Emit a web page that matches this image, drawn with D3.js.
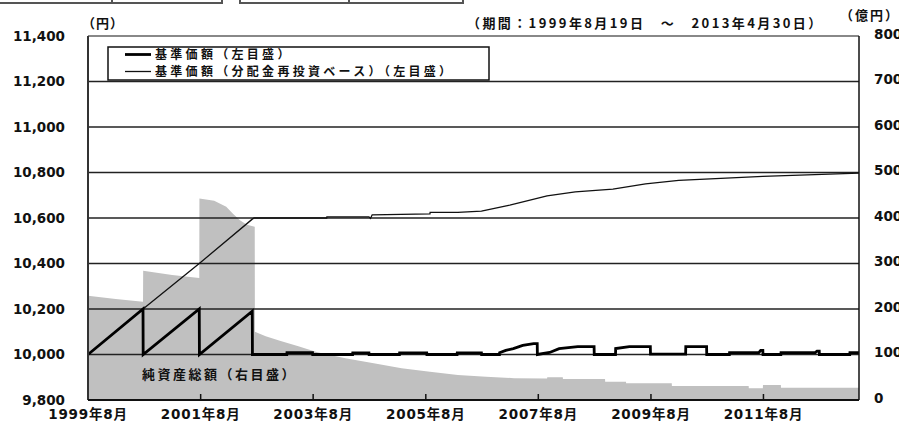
<!DOCTYPE html>
<html>
<head>
<meta charset="utf-8">
<script src="https://cdn.jsdelivr.net/npm/d3@7"></script>
<style>
  body { margin: 0; background: #fff; }
  svg { display: block; }
  text { font-family: "DejaVu Sans", "Noto Sans CJK JP", sans-serif; font-weight: bold; fill: #111; }
  .jp { font-family: "Noto Sans CJK JP", sans-serif; }
</style>
</head>
<body>
<svg id="chart"></svg>
<script>
// Data
const leftTicks = [9800, 10000, 10200, 10400, 10600, 10800, 11000, 11200, 11400];
const rightTicks = [0, 100, 200, 300, 400, 500, 600, 700, 800];
const xTickDates = ["1999-08-19", "2001-08-19", "2003-08-19", "2005-08-19", "2007-08-19", "2009-08-19", "2011-08-19"];
const xTickLabels = ["1999年8月", "2001年8月", "2003年8月", "2005年8月", "2007年8月", "2009年8月", "2011年8月"];

// 基準価額 (円)
const basePrice = [
  ["1999-08-19", 10000], ["2000-08-10", 10200], ["2000-08-11", 10000],
  ["2001-08-10", 10200], ["2001-08-11", 10000],
  ["2002-07-20", 10190], ["2002-07-21", 10000],
  ["2003-03-01", 10000], ["2003-03-02", 10008], ["2003-08-15", 10008], ["2003-08-16", 10000],
  ["2004-05-01", 10000], ["2004-05-02", 10007], ["2004-08-15", 10007], ["2004-08-16", 10000],
  ["2005-03-01", 10000], ["2005-03-02", 10007], ["2005-08-25", 10007], ["2005-08-26", 10000],
  ["2006-03-10", 10000], ["2006-03-11", 10007], ["2006-08-15", 10007], ["2006-08-16", 10000],
  ["2006-12-10", 10000], ["2006-12-11", 10008], ["2007-01-20", 10018], ["2007-03-10", 10026],
  ["2007-05-10", 10040], ["2007-07-20", 10048], ["2007-08-12", 10048], ["2007-08-13", 10000],
  ["2007-11-01", 10009], ["2008-01-01", 10026], ["2008-05-01", 10035], ["2008-08-15", 10035], ["2008-08-16", 10000],
  ["2009-01-01", 10000], ["2009-01-02", 10026], ["2009-04-01", 10035], ["2009-08-15", 10035], ["2009-08-16", 10002],
  ["2010-04-01", 10002], ["2010-04-02", 10035], ["2010-08-15", 10035], ["2010-08-16", 10000],
  ["2011-01-10", 10000], ["2011-01-11", 10008], ["2011-07-20", 10008], ["2011-08-01", 10018], ["2011-08-15", 10018], ["2011-08-16", 10000],
  ["2011-12-10", 10000], ["2011-12-11", 10008], ["2012-07-20", 10008], ["2012-08-01", 10015], ["2012-08-15", 10015], ["2012-08-16", 10000],
  ["2013-03-01", 10000], ["2013-03-02", 10008], ["2013-04-30", 10008]
];

// 基準価額 (分配金再投資ベース) (円)
const reinvested = [
  ["1999-08-19", 10000], ["2000-08-10", 10200], ["2001-08-10", 10400], ["2002-07-20", 10595], ["2002-08-01", 10600],
  ["2003-11-15", 10600], ["2003-11-16", 10605], ["2004-08-15", 10605], ["2004-08-25", 10598], ["2004-09-05", 10614],
  ["2005-09-15", 10618], ["2005-09-16", 10625], ["2006-03-15", 10625], ["2006-08-15", 10630], ["2007-02-15", 10657],
  ["2007-10-15", 10697], ["2008-04-15", 10715], ["2008-12-15", 10727], ["2009-07-15", 10750], ["2010-02-15", 10765],
  ["2011-08-15", 10783], ["2013-04-30", 10797]
];

// 純資産総額 (億円)
const netAssets = [
  ["1999-08-19", 229], ["2000-02-15", 222], ["2000-08-10", 216], ["2000-08-11", 284], ["2001-02-15", 275],
  ["2001-08-10", 268], ["2001-08-11", 443], ["2001-11-15", 438], ["2002-02-01", 425], ["2002-03-15", 410],
  ["2002-05-01", 395], ["2002-06-15", 385], ["2002-08-05", 381], ["2002-08-06", 150], ["2002-10-15", 140],
  ["2003-01-15", 130], ["2003-05-15", 118], ["2003-09-15", 105], ["2004-03-15", 92], ["2004-09-15", 81],
  ["2005-03-15", 70], ["2005-09-15", 62], ["2006-03-15", 55], ["2006-09-15", 51], ["2007-03-15", 48],
  ["2007-10-15", 47], ["2007-10-16", 50], ["2008-01-25", 50], ["2008-01-26", 46], ["2008-10-25", 46],
  ["2008-10-26", 40], ["2009-03-10", 40], ["2009-03-11", 37], ["2010-01-01", 37], ["2010-01-02", 31],
  ["2011-05-15", 31], ["2011-05-16", 26], ["2011-08-15", 26], ["2011-08-16", 33], ["2011-12-10", 33],
  ["2011-12-11", 27], ["2013-04-30", 27]
];

// Constants
const width = 899;
const height = 426;
const margin = { left: 88, right: 40, top: 36, bottom: 26 };
const visWidth = width - margin.left - margin.right;
const visHeight = height - margin.top - margin.bottom;

const parse = d3.timeParse("%Y-%m-%d");

const svg = d3.select('#chart')
  .attr('width', width)
  .attr('height', height);

// header table fragment at the very top
const header = svg.append('g').attr('stroke', '#555').attr('stroke-width', 2);
header.append('line').attr('x1', 0).attr('x2', 222).attr('y1', 3).attr('y2', 3);
header.append('line').attr('x1', 240).attr('x2', 463).attr('y1', 3).attr('y2', 3);
[112, 222, 240, 349, 463].forEach(px => {
  header.append('line').attr('x1', px).attr('x2', px).attr('y1', 0).attr('y2', 4);
});

const chart = svg.append('g')
  .attr('transform', `translate(${margin.left},${margin.top})`);

// Scales
const x = d3.scaleTime()
  .domain([parse("1999-08-19"), parse("2013-04-30")])
  .range([0, visWidth]);
const yL = d3.scaleLinear().domain([9800, 11400]).range([visHeight, 0]);
const yR = d3.scaleLinear().domain([0, 800]).range([visHeight, 0]);

// Net assets area
const area = d3.area()
  .x(d => x(parse(d[0])))
  .y0(visHeight)
  .y1(d => yR(d[1]));

chart.append('path')
  .datum(netAssets)
  .attr('d', area)
  .attr('fill', '#c0c0c0');

// Gridlines
chart.selectAll('.grid')
  .data(leftTicks.filter(v => v > 9800 && v < 11400))
  .enter()
  .append('line')
  .attr('x1', 0)
  .attr('x2', visWidth)
  .attr('y1', d => yL(d))
  .attr('y2', d => yL(d))
  .attr('stroke', '#222')
  .attr('stroke-width', 1.5);

// Lines
const line = d3.line()
  .x(d => x(parse(d[0])))
  .y(d => yL(d[1]));

chart.append('path')
  .datum(reinvested)
  .attr('d', line)
  .attr('fill', 'none')
  .attr('stroke', '#111')
  .attr('stroke-width', 1.3);

chart.append('path')
  .datum(basePrice)
  .attr('d', line)
  .attr('fill', 'none')
  .attr('stroke', '#000')
  .attr('stroke-width', 2.8)
  .attr('stroke-linejoin', 'miter');

// Frame
chart.append('line').attr('x1', 0).attr('x2', visWidth).attr('y1', 0).attr('y2', 0)
  .attr('stroke', '#888').attr('stroke-width', 2);
chart.append('line').attr('x1', 0).attr('x2', 0).attr('y1', 0).attr('y2', visHeight)
  .attr('stroke', '#333').attr('stroke-width', 2);
chart.append('line').attr('x1', visWidth).attr('x2', visWidth).attr('y1', 0).attr('y2', visHeight)
  .attr('stroke', '#111').attr('stroke-width', 1.5);
chart.append('line').attr('x1', 0).attr('x2', visWidth).attr('y1', visHeight).attr('y2', visHeight)
  .attr('stroke', '#111').attr('stroke-width', 2);

// X ticks and labels
xTickDates.forEach((d, i) => {
  const px = x(parse(d));
  if (i > 0) {
    chart.append('line').attr('x1', px).attr('x2', px)
      .attr('y1', visHeight).attr('y2', visHeight - 6)
      .attr('stroke', '#111').attr('stroke-width', 1.5);
  }
  chart.append('text')
    .attr('x', px)
    .attr('y', visHeight + 19)
    .attr('text-anchor', 'middle')
    .attr('font-size', '13.5px')
    .attr('letter-spacing', '0.8px')
    .text(xTickLabels[i]);
});

// Left axis labels
chart.selectAll('.ly')
  .data(leftTicks)
  .enter()
  .append('text')
  .attr('x', -23)
  .attr('y', d => yL(d))
  .attr('dy', '0.36em')
  .attr('text-anchor', 'end')
  .attr('font-size', '13.5px')
  .text(d => d3.format(',')(d));

// Right axis labels (cut by the page edge, as in the original)
chart.selectAll('.ry')
  .data(rightTicks)
  .enter()
  .append('text')
  .attr('x', visWidth + 15)
  .attr('y', d => yR(d) - 2)
  .attr('dy', '0.36em')
  .attr('font-size', '13.5px')
  .text(d => d);

// Unit labels and period
svg.append('text').attr('class', 'jp').attr('x', 82).attr('y', 23).attr('dy', '0.36em')
  .attr('font-size', '13px').attr('letter-spacing', '1px').text('（円）');
svg.append('text').attr('class', 'jp').attr('x', 840).attr('y', 15).attr('dy', '0.36em')
  .attr('font-size', '13px').attr('letter-spacing', '2px').text('（億円）');
svg.append('text').attr('class', 'jp').attr('x', 467).attr('y', 23).attr('dy', '0.36em')
  .attr('font-size', '13px').attr('letter-spacing', '2.4px').text('（期間：1999年8月19日　～　2013年4月30日）');

// Legend
const legend = svg.append('g');
legend.append('rect')
  .attr('x', 108).attr('y', 47).attr('width', 381).attr('height', 33)
  .attr('fill', '#fff').attr('stroke', '#111').attr('stroke-width', 1.5);
legend.append('line').attr('x1', 125).attr('x2', 151).attr('y1', 54.5).attr('y2', 54.5)
  .attr('stroke', '#000').attr('stroke-width', 2.8);
legend.append('line').attr('x1', 125).attr('x2', 151).attr('y1', 71.5).attr('y2', 71.5)
  .attr('stroke', '#111').attr('stroke-width', 1.3);
legend.append('text').attr('class', 'jp').attr('x', 155).attr('y', 54.5).attr('dy', '0.36em')
  .attr('font-size', '12px').attr('letter-spacing', '3.3px').text('基準価額（左目盛）');
legend.append('text').attr('class', 'jp').attr('x', 155).attr('y', 71.5).attr('dy', '0.36em')
  .attr('font-size', '12px').attr('letter-spacing', '3.3px').text('基準価額（分配金再投資ベース）（左目盛）');

// Net assets label
svg.append('text').attr('class', 'jp').attr('x', 142).attr('y', 374).attr('dy', '0.36em')
  .attr('font-size', '13px').attr('letter-spacing', '2.5px').text('純資産総額（右目盛）');
</script>
</body>
</html>
